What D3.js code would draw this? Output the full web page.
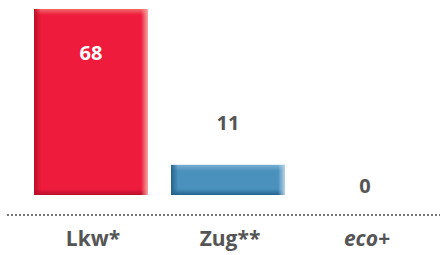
<!DOCTYPE html>
<html>
<head>
<meta charset="utf-8">
<script src="https://cdn.jsdelivr.net/npm/d3@7"></script>
<style>
  html, body { margin: 0; padding: 0; background: #fff; }
  svg { display: block; font-family: "Open Sans", sans-serif; }
</style>
</head>
<body>
<svg id="chart"></svg>
<script>
const categories = ['Lkw*', 'Zug**', 'eco+'];
const values = [68, 11, 0];
const italicCats = ['eco+'];

const width = 440, height = 255;
const baseY = 195, topY = 9;

const colors = {
  'Lkw*': { main: '#ee1b3c', dark: '#b80d2a', light: '#f7a8a4', top: '#f26a6a' },
  'Zug**': { main: '#4a91be', dark: '#24628d', light: '#b5d2e8', top: '#78aed2' },
  'eco+': { main: '#999', dark: '#666', light: '#ddd', top: '#bbb' }
};

const svg = d3.select('#chart')
  .attr('width', width)
  .attr('height', height);

const x = d3.scaleBand()
  .domain(categories)
  .range([22.5, 433.5])
  .paddingInner(0.168)
  .paddingOuter(0.084);

const y = d3.scaleLinear()
  .domain([0, 68])
  .range([baseY, topY]);

// gradients for the bevel look
const defs = svg.append('defs');
categories.forEach((c, i) => {
  const col = colors[c];
  const gl = defs.append('linearGradient').attr('id', 'gl' + i)
    .attr('x1', 0).attr('x2', 1).attr('y1', 0).attr('y2', 0);
  gl.append('stop').attr('offset', 0).attr('stop-color', col.dark).attr('stop-opacity', 1);
  gl.append('stop').attr('offset', 1).attr('stop-color', col.dark).attr('stop-opacity', 0);
  const gr = defs.append('linearGradient').attr('id', 'gr' + i)
    .attr('x1', 0).attr('x2', 1).attr('y1', 0).attr('y2', 0);
  gr.append('stop').attr('offset', 0).attr('stop-color', col.light).attr('stop-opacity', 0);
  gr.append('stop').attr('offset', 1).attr('stop-color', col.light).attr('stop-opacity', 1);
  const gt = defs.append('linearGradient').attr('id', 'gt' + i)
    .attr('x1', 0).attr('x2', 0).attr('y1', 0).attr('y2', 1);
  gt.append('stop').attr('offset', 0).attr('stop-color', col.top).attr('stop-opacity', 1);
  gt.append('stop').attr('offset', 1).attr('stop-color', col.top).attr('stop-opacity', 0);
  const gb = defs.append('linearGradient').attr('id', 'gb' + i)
    .attr('x1', 0).attr('x2', 0).attr('y1', 0).attr('y2', 1);
  gb.append('stop').attr('offset', 0).attr('stop-color', col.dark).attr('stop-opacity', 0);
  gb.append('stop').attr('offset', 1).attr('stop-color', col.dark).attr('stop-opacity', 1);
});

const bars = svg.selectAll('g.bar')
  .data(categories.map((c, i) => ({ cat: c, value: values[i], i: i })).filter(d => d.value > 0))
  .enter()
  .append('g')
  .attr('class', 'bar');

bars.append('rect')
  .attr('x', d => x(d.cat))
  .attr('y', d => y(d.value))
  .attr('width', x.bandwidth())
  .attr('height', d => y(0) - y(d.value))
  .attr('fill', d => colors[d.cat].main);

const edge = 7;
bars.append('rect')
  .attr('x', d => x(d.cat))
  .attr('y', d => y(d.value))
  .attr('width', x.bandwidth())
  .attr('height', 6)
  .attr('fill', d => 'url(#gt' + d.i + ')');
bars.append('rect')
  .attr('x', d => x(d.cat))
  .attr('y', d => y(0) - 6)
  .attr('width', x.bandwidth())
  .attr('height', 6)
  .attr('fill', d => 'url(#gb' + d.i + ')');
bars.append('rect')
  .attr('x', d => x(d.cat))
  .attr('y', d => y(d.value))
  .attr('width', edge)
  .attr('height', d => y(0) - y(d.value))
  .attr('fill', d => 'url(#gl' + d.i + ')');
bars.append('rect')
  .attr('x', d => x(d.cat) + x.bandwidth() - edge)
  .attr('y', d => y(d.value))
  .attr('width', edge)
  .attr('height', d => y(0) - y(d.value))
  .attr('fill', d => 'url(#gr' + d.i + ')');

// value labels
svg.selectAll('text.value')
  .data(categories.map((c, i) => ({ cat: c, value: values[i] })))
  .enter()
  .append('text')
  .attr('class', 'value')
  .attr('x', d => x(d.cat) + x.bandwidth() / 2)
  .attr('y', d => {
    if (d.value > 40) return y(d.value) + 51;
    if (d.value > 0) return y(d.value) - 35;
    return y(0) - 2;
  })
  .attr('text-anchor', 'middle')
  .style('font-size', '20px')
  .style('font-weight', 700)
  .style('fill', d => d.value > 40 ? '#fff' : '#555')
  .text(d => d.value);

// dotted baseline
svg.append('line')
  .attr('x1', 7)
  .attr('x2', width)
  .attr('y1', 215)
  .attr('y2', 215)
  .attr('stroke', '#777')
  .attr('stroke-width', 2)
  .attr('stroke-dasharray', '2,2');

// category labels
svg.selectAll('text.cat')
  .data(categories)
  .enter()
  .append('text')
  .attr('class', 'cat')
  .attr('x', d => x(d) + x.bandwidth() / 2 + 2)
  .attr('y', 246)
  .attr('text-anchor', 'middle')
  .style('font-size', '21px')
  .style('font-weight', 700)
  .style('font-style', d => italicCats.includes(d) ? 'italic' : 'normal')
  .style('fill', '#555')
  .text(d => d);
</script>
</body>
</html>
